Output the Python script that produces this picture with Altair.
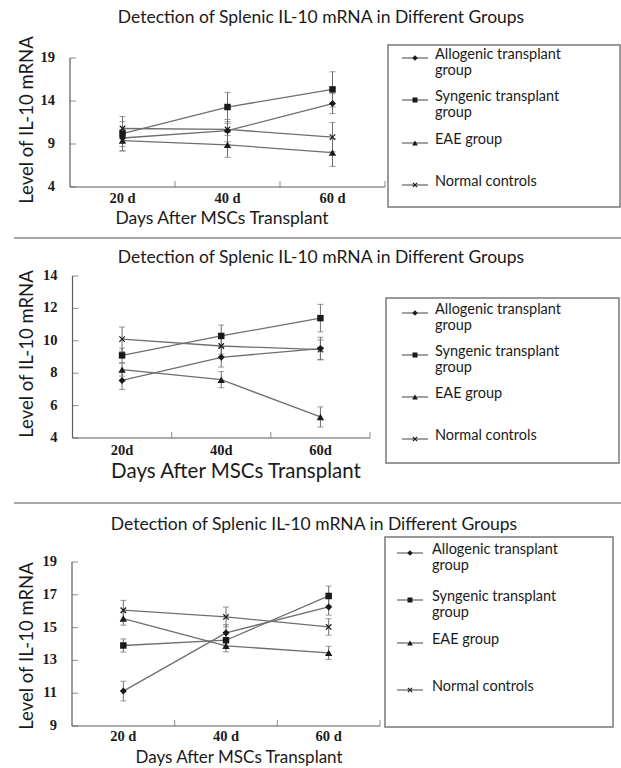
import altair as alt
import pandas as pd

# ---------------------------------------------------------------- data
TITLE = "Detection of Splenic IL-10 mRNA in Different Groups"
Y_TITLE = "Level of IL-10 mRNA"
X_TITLE = "Days After MSCs Transplant"

DAYS = [20, 40, 60]
GROUPS = ["Allogenic transplant group", "Syngenic transplant group", "EAE group", "Normal controls"]
LEGEND_LABELS = ["Allogenic transplant\ngroup", "Syngenic transplant\ngroup", "EAE group", "Normal controls"]

# top panel: mean level and error per day
P1_ALLO = [9.7, 10.55, 13.7]
P1_ALLO_ERR = [1.0, 1.3, 1.15]
P1_SYN = [10.2, 13.3, 15.35]
P1_SYN_ERR = [2.0, 1.7, 2.05]
P1_EAE = [9.4, 8.9, 8.0]
P1_EAE_ERR = [1.2, 1.45, 1.6]
P1_NORM = [10.8, 10.7, 9.8]
P1_NORM_ERR = [0.8, 0.7, 1.7]
P1_Y_TICKS = [4, 9, 14, 19]

# middle panel
P2_ALLO = [7.55, 8.98, 9.52]
P2_ALLO_ERR = [0.55, 0.6, 0.7]
P2_SYN = [9.1, 10.3, 11.4]
P2_SYN_ERR = [0.45, 0.67, 0.85]
P2_EAE = [8.22, 7.6, 5.3]
P2_EAE_ERR = [0.4, 0.5, 0.62]
P2_NORM = [10.1, 9.68, 9.45]
P2_NORM_ERR = [0.75, 0.5, 0.6]
P2_Y_TICKS = [4, 6, 8, 10, 12, 14]

# bottom panel
P3_ALLO = [11.13, 14.68, 16.26]
P3_ALLO_ERR = [0.6, 0.5, 0.5]
P3_SYN = [13.91, 14.23, 16.93]
P3_SYN_ERR = [0.4, 0.4, 0.6]
P3_EAE = [15.55, 13.89, 13.46]
P3_EAE_ERR = [0.4, 0.37, 0.4]
P3_NORM = [16.06, 15.65, 15.04]
P3_NORM_ERR = [0.6, 0.6, 0.5]
P3_Y_TICKS = [9, 11, 13, 15, 17, 19]

MINOR_X_TICKS = [30, 50, 70]
X_MIN, X_MAX = 10, 70

# ---------------------------------------------------------------- style
W, H = 621, 768
SANS = "Lato"
SERIF = "Liberation Serif"
INK = "#1a1a1a"
LINE_C = "#6e6e6e"
AXIS_C = "#5c5c5c"
BOX_C = "#7a7a7a"
SEP_C = "#a8a8a8"
X_PATH = "M-1,-1L1,1M1,-1L-1,1"

MARKERS = {
    GROUPS[0]: dict(shape="diamond", filled=True, size=50),
    GROUPS[1]: dict(shape="square", filled=True, size=42),
    GROUPS[2]: dict(shape="triangle-up", filled=True, size=55),
    GROUPS[3]: dict(shape=X_PATH, filled=False, size=30, strokeWidth=1.2),
}

PANELS = [
    dict(series=[(P1_ALLO, P1_ALLO_ERR), (P1_SYN, P1_SYN_ERR), (P1_EAE, P1_EAE_ERR), (P1_NORM, P1_NORM_ERR)],
         yticks=P1_Y_TICKS, ydom=(4, 19), xr=(70, 385), yr=(187, 58), suffix=" d", xlab_pad=5,
         ytitle_y=120, xtitle=(222, 219, 17.5), title=(321, 18),
         box=(388, 45, 620, 207), rows=[58, 100, 143, 185], sym_x=(402, 428), text_x=435, line_h=15.5),
    dict(series=[(P2_ALLO, P2_ALLO_ERR), (P2_SYN, P2_SYN_ERR), (P2_EAE, P2_EAE_ERR), (P2_NORM, P2_NORM_ERR)],
         yticks=P2_Y_TICKS, ydom=(4, 14), xr=(72.5, 370), yr=(438, 276), suffix="d", xlab_pad=6,
         ytitle_y=354, xtitle=(236, 472, 20.5), title=(321, 258),
         box=(386, 298, 619, 463), rows=[313, 355, 397, 439], sym_x=(402, 428), text_x=435, line_h=15.5),
    dict(series=[(P3_ALLO, P3_ALLO_ERR), (P3_SYN, P3_SYN_ERR), (P3_EAE, P3_EAE_ERR), (P3_NORM, P3_NORM_ERR)],
         yticks=P3_Y_TICKS, ydom=(9, 19), xr=(72, 380), yr=(726, 562), suffix=" d", xlab_pad=4,
         ytitle_y=646, xtitle=(239, 758, 17), title=(314, 525),
         box=(385, 537, 613, 727), rows=[553, 600, 643, 690], sym_x=(397, 423), text_x=432, line_h=16),
]
SEPARATORS = [238, 503]


def frame(series):
    rows = []
    for g, (means, errs) in zip(GROUPS, series):
        for d, m, e in zip(DAYS, means, errs):
            rows.append({"group": g, "day": d, "mean": m, "err": e})
    return pd.DataFrame(rows)


def panel(cfg):
    df = frame(cfg["series"])
    x0, x1 = cfg["xr"]
    ybot, ytop = cfg["yr"]
    ymin, ymax = cfg["ydom"]
    xs = alt.Scale(domain=[X_MIN, X_MAX], range=[x0, x1], nice=False, zero=False)
    ys = alt.Scale(domain=[ymin, ymax], range=[ybot, ytop], nice=False, zero=False)

    def X(field):
        return alt.X(field, scale=xs, axis=None)

    def Y(field):
        return alt.Y(field, scale=ys, axis=None)

    x_left = alt.XDatum(X_MIN, scale=xs, axis=None)
    y_bottom = alt.YDatum(ymin, scale=ys, axis=None)

    base = alt.Chart(df).transform_calculate(lo="datum.mean - datum.err", hi="datum.mean + datum.err")

    lines = base.mark_line(color=LINE_C, strokeWidth=1.3).encode(
        x=X("day:Q"), y=Y("mean:Q"), detail="group:N", order="day:Q"
    )
    bars = base.mark_rule(color=LINE_C, strokeWidth=1).encode(x=X("day:Q"), y=Y("lo:Q"), y2="hi:Q")
    caps_lo = base.mark_tick(orient="horizontal", size=6, thickness=1, color=LINE_C).encode(
        x=X("day:Q"), y=Y("lo:Q"))
    caps_hi = base.mark_tick(orient="horizontal", size=6, thickness=1, color=LINE_C).encode(
        x=X("day:Q"), y=Y("hi:Q"))
    points = [
        base.transform_filter(alt.datum.group == g)
        .mark_point(color=INK, opacity=1, **MARKERS[g])
        .encode(x=X("day:Q"), y=Y("mean:Q"))
        for g in GROUPS
    ]

    # axis lines, inward ticks and tick labels
    one = alt.Chart(pd.DataFrame({"k": [0]}))
    y_domain = one.mark_rule(color=AXIS_C, strokeWidth=1.2).encode(
        x=x_left, y=y_bottom, y2=alt.Y2Datum(ymax))
    x_domain = one.mark_rule(color=AXIS_C, strokeWidth=1.2).encode(
        x=x_left, x2=alt.X2Datum(X_MAX), y=y_bottom)
    yt = alt.Chart(pd.DataFrame({"v": cfg["yticks"]}))
    y_ticks = yt.mark_tick(orient="horizontal", size=6, thickness=1, color=AXIS_C, xOffset=3).encode(
        x=x_left, y=Y("v:Q"))
    y_labels = yt.mark_text(font=SERIF, fontWeight="bold", fontSize=14.5, color=INK, align="right",
                            baseline="middle", dx=-15).encode(x=x_left, y=Y("v:Q"), text="v:Q")
    x_ticks = alt.Chart(pd.DataFrame({"d": MINOR_X_TICKS})).mark_tick(
        orient="vertical", size=6, thickness=1, color=AXIS_C, yOffset=-3).encode(x=X("d:Q"), y=y_bottom)
    x_labels = alt.Chart(pd.DataFrame({"d": DAYS})).transform_calculate(
        lab=f"datum.d + '{cfg['suffix']}'"
    ).mark_text(font=SERIF, fontWeight="bold", fontSize=14.5, color=INK, align="center",
                baseline="top", dy=cfg["xlab_pad"]).encode(x=X("d:Q"), y=y_bottom, text="lab:N")

    return alt.layer(lines, bars, caps_lo, caps_hi, *points,
                     y_domain, x_domain, y_ticks, x_ticks, y_labels, x_labels)


one = alt.Chart(pd.DataFrame({"k": [0]}))


def decorations(cfg):
    layers = []
    tx, ty = cfg["title"]
    layers.append(one.mark_text(text=TITLE, font=SANS, fontSize=17.5, color=INK, align="center",
                                baseline="middle").encode(x=alt.value(tx), y=alt.value(ty)))
    # axis titles
    layers.append(one.mark_text(text=Y_TITLE, font=SANS, fontSize=18.5, color=INK, align="center",
                                baseline="middle", angle=270).encode(
        x=alt.value(27), y=alt.value(cfg["ytitle_y"])))
    xtx, xty, xts = cfg["xtitle"]
    layers.append(one.mark_text(text=X_TITLE, font=SANS, fontSize=xts, color=INK, align="center",
                                baseline="middle").encode(x=alt.value(xtx), y=alt.value(xty)))
    # legend box and entries
    bx0, by0, bx1, by1 = cfg["box"]
    layers.append(one.mark_rect(fill="white", fillOpacity=0, stroke=BOX_C, strokeWidth=1.5).encode(
        x=alt.value(bx0), x2=alt.value(bx1), y=alt.value(by0), y2=alt.value(by1)))
    sx0, sx1 = cfg["sym_x"]
    for g, lab, ry in zip(GROUPS, LEGEND_LABELS, cfg["rows"]):
        layers.append(one.mark_rule(color=LINE_C, strokeWidth=1.3).encode(
            x=alt.value(sx0), x2=alt.value(sx1), y=alt.value(ry)))
        mk = dict(MARKERS[g])
        mk["size"] = mk["size"] * 0.6
        layers.append(one.mark_point(color=INK, opacity=1, **mk).encode(
            x=alt.value((sx0 + sx1) / 2), y=alt.value(ry)))
        layers.append(one.mark_text(text=lab, lineBreak="\n", font=SANS, fontSize=14.5,
                                    lineHeight=cfg["line_h"], color=INK, align="left",
                                    baseline="top").encode(x=alt.value(cfg["text_x"]), y=alt.value(ry - 10)))
    return layers


decor = []
for cfg in PANELS:
    decor.extend(decorations(cfg))
for sy in SEPARATORS:
    decor.append(one.mark_rule(color=SEP_C, strokeWidth=2).encode(
        x=alt.value(14), x2=alt.value(W), y=alt.value(sy)))

chart = (
    alt.layer(*[panel(cfg) for cfg in PANELS], *decor)
    .resolve_scale(x="independent", y="independent")
    .properties(width=W, height=H, autosize=alt.AutoSizeParams(type="none"), padding=0, background="white")
    .configure_view(stroke=None)
)

chart.save("out.html", embed_options={"renderer": "svg", "actions": False})
